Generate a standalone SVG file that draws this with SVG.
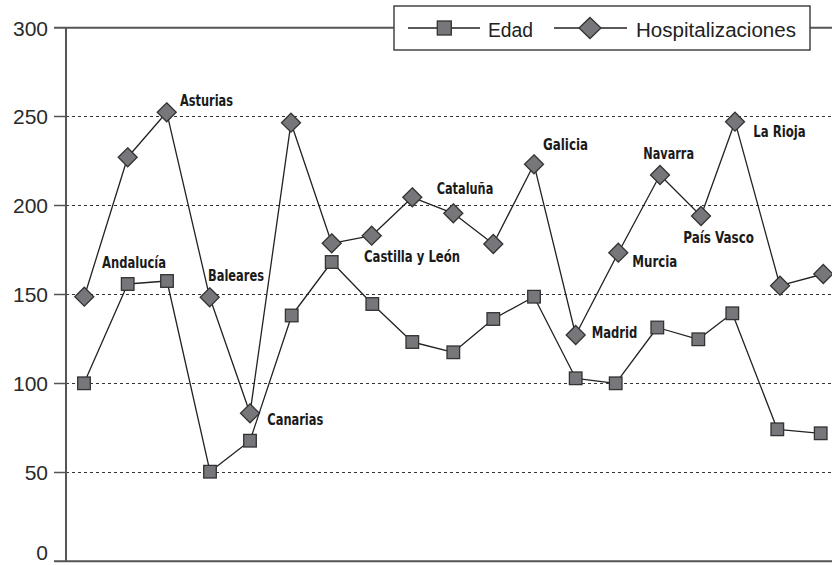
<svg xmlns="http://www.w3.org/2000/svg" xmlns:xlink="http://www.w3.org/1999/xlink" width="832" height="565" viewBox="0 0 832 565">
<style>
.axis{stroke:#555;stroke-width:2;fill:none}
.grid{stroke:#333;stroke-width:1;stroke-dasharray:3,3;fill:none}
.tick{stroke:#555;stroke-width:1.5}
.ser{stroke:#222;stroke-width:1.3;fill:none;stroke-linejoin:round}
.mk{fill:#77777b;stroke:#333;stroke-width:1.3}
.yl{font-family:"Liberation Sans",Arial,sans-serif;font-size:21px;fill:#2a2a2a;text-anchor:end}
.lg{font-family:"Liberation Sans",Arial,sans-serif;font-size:20px;fill:#222}
.lb{font-family:"Liberation Sans Narrow","Arial Narrow","DejaVu Sans Condensed","Liberation Sans",sans-serif;font-weight:bold;font-size:16px;fill:#1a1a1a}
</style>
<defs>
<rect id="sq" x="-6.3" y="-6.3" width="12.6" height="12.6" class="mk"/>
<polygon id="dm" points="0,-9.5 9.5,0 0,9.5 -9.5,0" class="mk"/>
</defs>
<rect width="832" height="565" fill="#fff"/>
<g id="grid">
<line class="grid" x1="66" y1="116.5" x2="832" y2="116.5"/>
<line class="grid" x1="66" y1="205.5" x2="832" y2="205.5"/>
<line class="grid" x1="66" y1="294.5" x2="832" y2="294.5"/>
<line class="grid" x1="66" y1="383.5" x2="832" y2="383.5"/>
<line class="grid" x1="66" y1="472.5" x2="832" y2="472.5"/>
</g>
<g id="axes">
<line class="axis" x1="54" y1="27.8" x2="832" y2="27.8"/>
<line class="axis" x1="66" y1="27" x2="66" y2="562"/>
<line class="axis" x1="54" y1="561.3" x2="832" y2="561.3"/>
<line class="tick" x1="54" y1="116.5" x2="66" y2="116.5"/>
<line class="tick" x1="54" y1="205.5" x2="66" y2="205.5"/>
<line class="tick" x1="54" y1="294.5" x2="66" y2="294.5"/>
<line class="tick" x1="54" y1="383.5" x2="66" y2="383.5"/>
<line class="tick" x1="54" y1="472.5" x2="66" y2="472.5"/>
<text class="yl" x="48" y="35.5">300</text>
<text class="yl" x="48" y="124">250</text>
<text class="yl" x="48" y="213">200</text>
<text class="yl" x="48" y="302">150</text>
<text class="yl" x="48" y="391">100</text>
<text class="yl" x="48" y="480">50</text>
<text class="yl" x="48" y="560">0</text>
</g>
<g id="connectors">
<polyline id="edad-line" class="ser" points="84,383.3 127.7,284 167,281 210,471.7 250,440.7 291.7,315.5 331.7,262 372.3,304 412.3,342 453.3,352.3 493.3,319 534,296.7 575.7,378.3 615.7,383.3 657.3,327.5 698.3,339.3 732.3,313.3 777.3,429.3 820.7,433.3"/>
<polyline id="hosp-line" class="ser" points="84.3,296.7 127.7,157.3 166.7,112.3 209.7,297.3 250,413.3 291,122.7 331.7,243.3 371.7,235.7 412.3,197.3 453.3,213.3 493.3,244 534,164.3 575.7,335 618.3,252.7 660,175 701,216 735,121.7 780,285.7 823.3,274"/>
</g>
<g id="edad-markers">
<use xlink:href="#sq" x="84" y="383.3"/>
<use xlink:href="#sq" x="127.7" y="284"/>
<use xlink:href="#sq" x="167" y="281"/>
<use xlink:href="#sq" x="210" y="471.7"/>
<use xlink:href="#sq" x="250" y="440.7"/>
<use xlink:href="#sq" x="291.7" y="315.5"/>
<use xlink:href="#sq" x="331.7" y="262"/>
<use xlink:href="#sq" x="372.3" y="304"/>
<use xlink:href="#sq" x="412.3" y="342"/>
<use xlink:href="#sq" x="453.3" y="352.3"/>
<use xlink:href="#sq" x="493.3" y="319"/>
<use xlink:href="#sq" x="534" y="296.7"/>
<use xlink:href="#sq" x="575.7" y="378.3"/>
<use xlink:href="#sq" x="615.7" y="383.3"/>
<use xlink:href="#sq" x="657.3" y="327.5"/>
<use xlink:href="#sq" x="698.3" y="339.3"/>
<use xlink:href="#sq" x="732.3" y="313.3"/>
<use xlink:href="#sq" x="777.3" y="429.3"/>
<use xlink:href="#sq" x="820.7" y="433.3"/>
</g>
<g id="hosp-markers">
<use xlink:href="#dm" x="84.3" y="296.7"/>
<use xlink:href="#dm" x="127.7" y="157.3"/>
<use xlink:href="#dm" x="166.7" y="112.3"/>
<use xlink:href="#dm" x="209.7" y="297.3"/>
<use xlink:href="#dm" x="250" y="413.3"/>
<use xlink:href="#dm" x="291" y="122.7"/>
<use xlink:href="#dm" x="331.7" y="243.3"/>
<use xlink:href="#dm" x="371.7" y="235.7"/>
<use xlink:href="#dm" x="412.3" y="197.3"/>
<use xlink:href="#dm" x="453.3" y="213.3"/>
<use xlink:href="#dm" x="493.3" y="244"/>
<use xlink:href="#dm" x="534" y="164.3"/>
<use xlink:href="#dm" x="575.7" y="335"/>
<use xlink:href="#dm" x="618.3" y="252.7"/>
<use xlink:href="#dm" x="660" y="175"/>
<use xlink:href="#dm" x="701" y="216"/>
<use xlink:href="#dm" x="735" y="121.7"/>
<use xlink:href="#dm" x="780" y="285.7"/>
<use xlink:href="#dm" x="823.3" y="274"/>
</g>
<g id="labels">
<text class="lb" x="180" y="106" textLength="53" lengthAdjust="spacingAndGlyphs">Asturias</text>
<text class="lb" x="102" y="268.3" textLength="64" lengthAdjust="spacingAndGlyphs">Andalucía</text>
<text class="lb" x="208" y="281" textLength="56" lengthAdjust="spacingAndGlyphs">Baleares</text>
<text class="lb" x="267.3" y="425.3" textLength="56" lengthAdjust="spacingAndGlyphs">Canarias</text>
<text class="lb" x="364" y="262" textLength="96" lengthAdjust="spacingAndGlyphs">Castilla y León</text>
<text class="lb" x="436.7" y="194" textLength="56.6" lengthAdjust="spacingAndGlyphs">Cataluña</text>
<text class="lb" x="543" y="150" textLength="45" lengthAdjust="spacingAndGlyphs">Galicia</text>
<text class="lb" x="591.7" y="338.3" textLength="45.6" lengthAdjust="spacingAndGlyphs">Madrid</text>
<text class="lb" x="632.3" y="266.7" textLength="45" lengthAdjust="spacingAndGlyphs">Murcia</text>
<text class="lb" x="643.3" y="159" textLength="50.7" lengthAdjust="spacingAndGlyphs">Navarra</text>
<text class="lb" x="683.3" y="242.7" textLength="70.7" lengthAdjust="spacingAndGlyphs">País Vasco</text>
<text class="lb" x="753.3" y="136.7" textLength="52.4" lengthAdjust="spacingAndGlyphs">La Rioja</text>
</g>
<g id="legend">
<rect x="394" y="6" width="416" height="44" fill="#fff" stroke="#444" stroke-width="1.5"/>
<line x1="408" y1="28" x2="480" y2="28" stroke="#222" stroke-width="1.3"/>
<rect x="437.3" y="21" width="14" height="14" class="mk"/>
<text class="lg" x="488" y="36.5" textLength="45" lengthAdjust="spacingAndGlyphs">Edad</text>
<line x1="554" y1="28" x2="627" y2="28" stroke="#222" stroke-width="1.3"/>
<polygon points="590,17.5 601,28 590,38.5 579,28" class="mk"/>
<text class="lg" x="636" y="36.5" textLength="160" lengthAdjust="spacingAndGlyphs">Hospitalizaciones</text>
</g>
</svg>
